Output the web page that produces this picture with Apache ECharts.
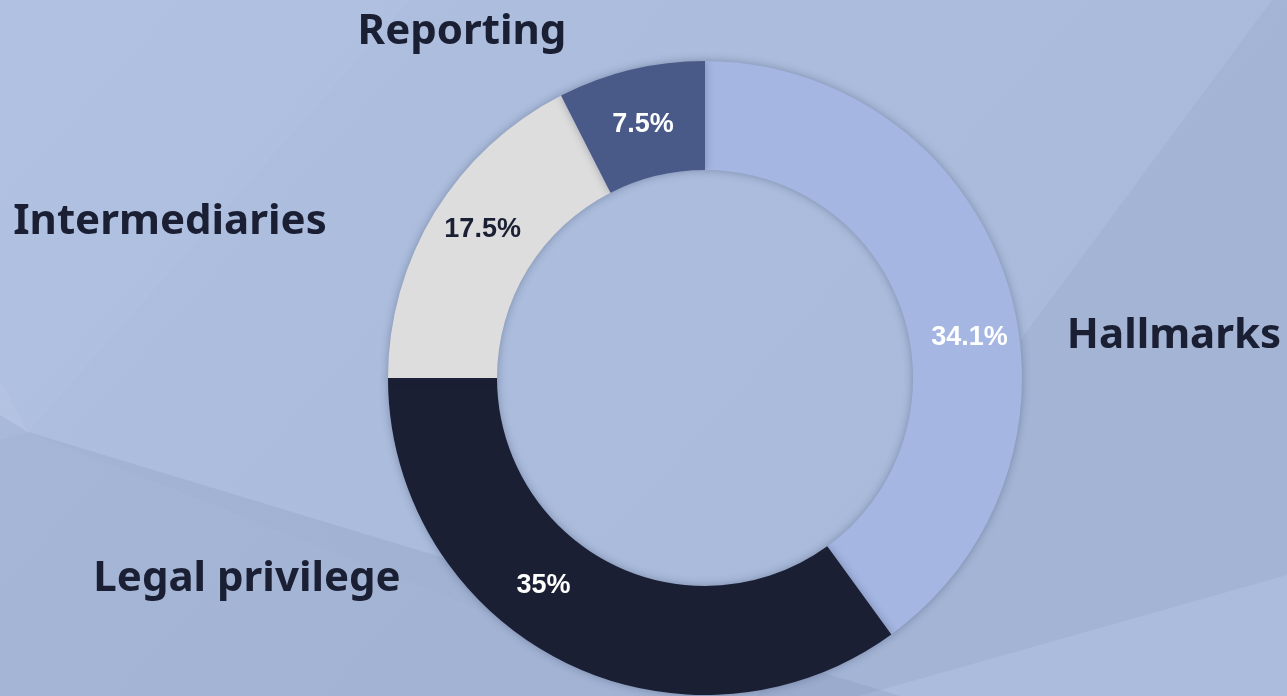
<!DOCTYPE html>
<html>
<head>
<meta charset="utf-8">
<script src="https://cdn.jsdelivr.net/npm/echarts@6/dist/echarts.min.js"></script>
<style>
    html, body { margin: 0; padding: 0; }
    #main { width: 1287px; height: 696px; }
</style>
</head>
<body>
<div id="main"></div>
<script>
// 数据
var categories = ['Hallmarks', 'Legal privilege', 'Intermediaries', 'Reporting'];
var values = [40, 35, 17.5, 7.5];
// 图上标注的百分比文字（按原图）
var percentLabels = ['34.1%', '35%', '17.5%', '7.5%'];

var colors = ['#a4b6e1', '#1a1f33', '#dddddd', '#4a5a88'];
var labelColors = ['#ffffff', '#ffffff', '#1a1f33', '#ffffff'];
var labelOffsets = [[12, 42], [-41, -29], [4, -10], [0, 5]];
// 分类名称的位置
var namePos = [[1174, 336], [247, 579], [170, 222], [462, 32]];

var chart = echarts.init(document.getElementById('main'));

// 背景的多边形（淡淡的折面效果）
var bgShapes = [
    { points: [[28, 432], [410, 0], [1272, 0], [757, 696], [700, 696]], fill: 'rgba(90,105,150,0.02)' },
    { points: [[0, 415], [28, 432], [900, 696], [0, 696]], fill: 'rgba(80,95,140,0.1)' },
    { points: [[1272, 0], [1287, 0], [1287, 575], [859, 696], [757, 696]], fill: 'rgba(80,95,140,0.08)' },
    { points: [[0, 380], [28, 432], [0, 440]], fill: 'rgba(255,255,255,0.05)' }
];

var graphics = bgShapes.map(function (s) {
    return {
        type: 'polygon',
        z: -10,
        silent: true,
        shape: { points: s.points },
        style: { fill: s.fill }
    };
});

categories.forEach(function (name, i) {
    graphics.push({
        type: 'text',
        x: namePos[i][0],
        y: namePos[i][1],
        style: {
            text: name,
            fill: '#1a1f33',
            font: 'bold 42px "Noto Sans"',
            align: 'center',
            verticalAlign: 'middle'
        }
    });
});

var option = {
    backgroundColor: {
        type: 'linear',
        x: 0, y: 0, x2: 0.6, y2: 1,
        colorStops: [
            { offset: 0, color: '#b0c1e1' },
            { offset: 1, color: '#abbcdc' }
        ]
    },
    graphic: graphics,
    series: [{
        type: 'pie',
        radius: [208, 317],
        center: [705, 378],
        startAngle: 90,
        clockwise: true,
        silent: true,
        itemStyle: {
            shadowBlur: 8,
            shadowColor: 'rgba(40,50,80,0.35)'
        },
        labelLine: { show: false },
        data: categories.map(function (name, i) {
            return {
                name: name,
                value: values[i],
                itemStyle: { color: colors[i] },
                label: {
                    show: true,
                    position: 'inside',
                    formatter: percentLabels[i],
                    color: labelColors[i],
                    fontFamily: '"Liberation Sans", Arial',
                    fontWeight: 'bold',
                    fontSize: 27,
                    offset: labelOffsets[i]
                }
            };
        })
    }]
};

chart.setOption(option);
</script>
</body>
</html>
